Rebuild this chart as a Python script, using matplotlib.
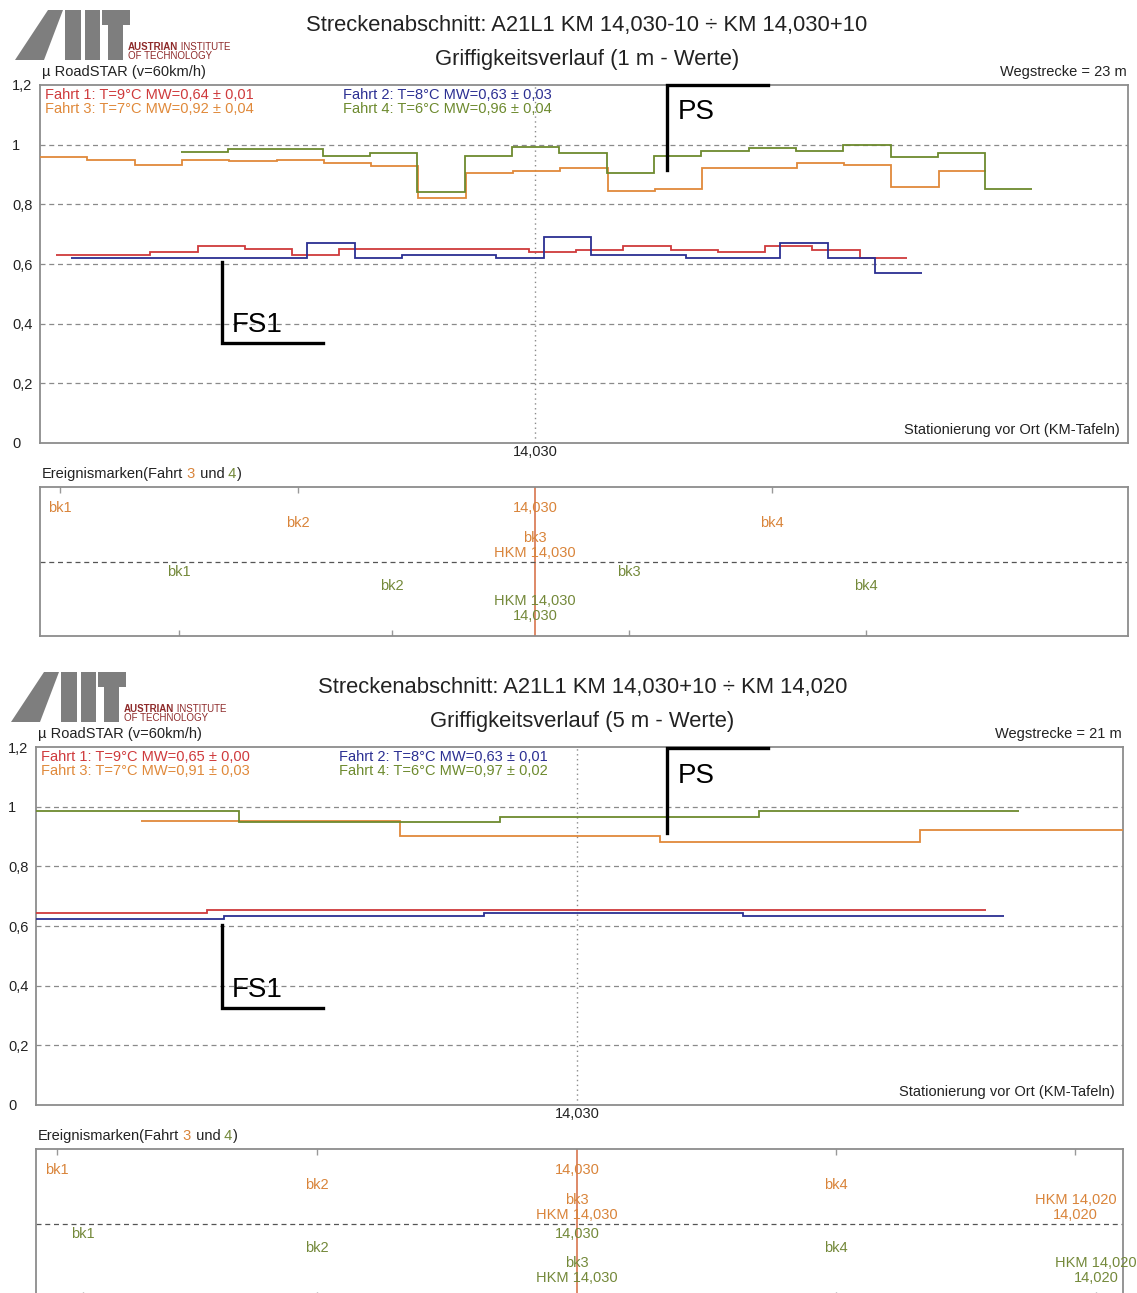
import numpy as np
import matplotlib
matplotlib.use("Agg")
import matplotlib.pyplot as plt
from matplotlib.patches import Polygon

plt.rcParams["font.family"] = ["Liberation Sans", "DejaVu Sans"]

# ---------------------------------------------------------------- data
# Section 1: 1 m values (positions in metres along the measured section)
top_xlim = (0.0, 23.0)
top_station = 10.47
top_step = 1.0
fahrt1_top_start = 0.33
fahrt1_top = [0.630, 0.630, 0.639, 0.660, 0.650, 0.630, 0.650, 0.650, 0.650, 0.650,
              0.639, 0.648, 0.660, 0.648, 0.639, 0.660, 0.648, 0.619]
fahrt2_top_start = 0.65
fahrt2_top = [0.619, 0.619, 0.619, 0.619, 0.619, 0.669, 0.619, 0.630, 0.630, 0.619,
              0.689, 0.630, 0.630, 0.619, 0.619, 0.669, 0.619, 0.570]
fahrt3_top_start = 0.0
fahrt3_top = [0.958, 0.948, 0.932, 0.948, 0.946, 0.948, 0.938, 0.930, 0.822, 0.906,
              0.912, 0.922, 0.845, 0.852, 0.922, 0.922, 0.940, 0.931, 0.858, 0.911]
fahrt4_top_start = 2.98
fahrt4_top = [0.975, 0.985, 0.985, 0.962, 0.972, 0.843, 0.962, 0.993, 0.973, 0.905,
              0.961, 0.979, 0.989, 0.979, 1.000, 0.959, 0.972, 0.850]

top_legend = ["Fahrt 1: T=9°C MW=0,64 ± 0,01", "Fahrt 2: T=8°C MW=0,63 ± 0,03",
              "Fahrt 3: T=7°C MW=0,92 ± 0,04", "Fahrt 4: T=6°C MW=0,96 ± 0,04"]

top_ev3_pos = [0.42, 5.45, 10.47, 10.47, 10.47, 15.47]
top_ev3_lab = ["bk1", "bk2", "14,030", "bk3", "HKM 14,030", "bk4"]
top_ev3_row = [0, 1, 0, 2, 3, 1]
top_ev4_pos = [2.93, 7.44, 10.47, 10.47, 12.45, 17.46]
top_ev4_lab = ["bk1", "bk2", "HKM 14,030", "14,030", "bk3", "bk4"]
top_ev4_row = [0, 1, 2, 3, 0, 1]

# Section 2: 5 m values
low_xlim = (0.0, 21.0)
low_station = 10.45
fahrt1_low_edges = [0.0, 3.30, 8.30, 13.30, 18.35]
fahrt1_low = [0.645, 0.652, 0.652, 0.652]
fahrt2_low_edges = [0.0, 3.63, 8.65, 13.65, 18.71]
fahrt2_low = [0.622, 0.632, 0.642, 0.632]
fahrt3_low_edges = [2.02, 7.04, 12.05, 17.07, 22.07]
fahrt3_low = [0.952, 0.902, 0.882, 0.922]
fahrt4_low_edges = [0.0, 3.93, 8.97, 13.97, 18.99]
fahrt4_low = [0.984, 0.947, 0.964, 0.984]

low_legend = ["Fahrt 1: T=9°C MW=0,65 ± 0,00", "Fahrt 2: T=8°C MW=0,63 ± 0,01",
              "Fahrt 3: T=7°C MW=0,91 ± 0,03", "Fahrt 4: T=6°C MW=0,97 ± 0,02"]

low_ev3_pos = [0.41, 5.43, 10.45, 10.45, 10.45, 15.46, 20.08, 20.08]
low_ev3_lab = ["bk1", "bk2", "14,030", "bk3", "HKM 14,030", "bk4", "HKM 14,020", "14,020"]
low_ev3_row = [0, 1, 0, 2, 3, 1, 2, 3]
low_ev4_pos = [0.91, 5.43, 10.45, 10.45, 10.45, 15.46, 20.48, 20.48]
low_ev4_lab = ["bk1", "bk2", "14,030", "bk3", "HKM 14,030", "bk4", "HKM 14,020", "14,020"]
low_ev4_row = [0, 1, 0, 2, 3, 1, 2, 3]

y_ticks = [0.0, 0.2, 0.4, 0.6, 0.8, 1.0, 1.2]
y_tick_labels = ["0", "0,2", "0,4", "0,6", "0,8", "1", "1,2"]

# ---------------------------------------------------------------- style
RED = "#cf3a3c"
BLUE = "#2b2f92"
ORANGE = "#e0893a"
GREEN = "#6d8a2e"
EV_ORANGE = "#d9843a"
EV_GREEN = "#74893a"
FRAME = "#8c8c8c"
GRID = "#8a8a8a"
TXT = "#222222"
SMALL = 10.5

W, H = 1137, 1293
fig = plt.figure(figsize=(W / 100, H / 100), dpi=100)
renderer = fig.canvas.get_renderer()


def px_axes(x0, y0, x1, y1):
    return fig.add_axes([x0 / W, 1 - y1 / H, (x1 - x0) / W, (y1 - y0) / H])


def ftext(x, y, s, **kw):
    kw.setdefault("fontsize", SMALL)
    kw.setdefault("color", TXT)
    return fig.text(x / W, 1 - y / H, s, **kw)


def text_run(x, y, pieces, **kw):
    """Write differently coloured pieces one after another on a baseline."""
    for s, c, extra in pieces:
        opts = dict(kw)
        opts.update(extra)
        t = ftext(x, y, s, color=c, ha="left", va="baseline", **opts)
        x += t.get_window_extent(renderer).width


def draw_logo(ox, oy):
    grey = "#7e7e7e"
    shapes = [
        [(-2, 50), (27, 50), (46, 0), (31, 0)],          # slash of the A
        [(48, 0), (64, 0), (64, 50), (48, 50)],          # stem of the A
        [(68, 0), (83, 0), (83, 50), (68, 50)],          # I
        [(85, 0), (113, 0), (113, 15), (85, 15)],        # T bar
        [(91, 0), (106, 0), (106, 50), (91, 50)],        # T stem
    ]
    for pts in shapes:
        xy = [((ox + px) / W, 1 - (oy + py) / H) for px, py in pts]
        fig.add_artist(Polygon(xy, closed=True, facecolor=grey, edgecolor="none",
                               transform=fig.transFigure))
    dark_red = "#8e2a2a"
    text_run(ox + 111, oy + 40, [("AUSTRIAN", dark_red, {"fontweight": "bold"}),
                                 (" INSTITUTE", dark_red, {})], fontsize=7)
    ftext(ox + 111, oy + 49, "OF TECHNOLOGY", fontsize=7, color=dark_red,
          ha="left", va="baseline")


def draw_section(dy, xl, xr, xlim, station, title, subtitle, distance, legend,
                 series, ev3, ev4, fs1, ps):
    cx = (xl + xr) / 2 + 3
    ftext(cx, 25 + dy, title, ha="center", va="center", fontsize=15.8)
    ftext(cx, 60 + dy, subtitle, ha="center", va="center", fontsize=15.8)
    ftext(xl + 2, 72 + dy, "µ RoadSTAR (v=60km/h)", ha="left", va="center")
    ftext(xr - 1, 72 + dy, distance, ha="right", va="center")
    draw_logo(xl - 23, 10 + dy)

    # ---- friction profile
    ax = px_axes(xl, 85 + dy, xr, 443 + dy)
    ax.set_xlim(xlim)
    ax.set_ylim(0, 1.2)
    for edges, vals, col in series:
        ax.stairs(vals, edges, baseline=None, color=col, lw=1.3, zorder=3)
    for yv in y_ticks[1:-1]:
        ax.axhline(yv, color=GRID, lw=0.9, ls=(0, (4, 3)), zorder=1)
    ax.axvline(station, color=GRID, lw=1.0, ls=(0, (1, 2.5)), zorder=2)
    ax.set_xticks([])
    ax.set_yticks(y_ticks, y_tick_labels)
    ax.tick_params(axis="y", length=0, pad=20.2, labelsize=SMALL, labelcolor=TXT)
    for lab in ax.get_yticklabels():
        lab.set_horizontalalignment("left")
    for sp in ax.spines.values():
        sp.set_color(FRAME)
        sp.set_linewidth(1.3)
    ax.text(station, -9 / 358, "14,030", transform=ax.get_xaxis_transform(),
            ha="center", va="center", fontsize=SMALL, color=TXT)
    ftext(xr - 8, 430 + dy, "Stationierung vor Ort (KM-Tafeln)", ha="right", va="center")

    colors = [RED, BLUE, ORANGE, GREEN]
    ftext(xl + 5, 95 + dy, legend[0], color=colors[0], ha="left", va="center")
    ftext(xl + 303, 95 + dy, legend[1], color=colors[1], ha="left", va="center")
    ftext(xl + 5, 109 + dy, legend[2], color=colors[2], ha="left", va="center")
    ftext(xl + 303, 109 + dy, legend[3], color=colors[3], ha="left", va="center")

    # FS1 / PS markers
    ax.plot([fs1["x"], fs1["x"], fs1["x_end"]], [fs1["y_top"], fs1["y_bot"], fs1["y_bot"]],
            color="black", lw=2.4, clip_on=False, zorder=6, solid_joinstyle="miter")
    ax.text(fs1["tx"], fs1["ty"], "FS1", fontsize=20, ha="left", va="center", color="black")
    ax.plot([ps["x"], ps["x"], ps["x_end"]], [ps["y_bot"], ps["y_top"], ps["y_top"]],
            color="black", lw=2.4, clip_on=False, zorder=6, solid_joinstyle="miter")
    ax.text(ps["tx"], ps["ty"], "PS", fontsize=20, ha="left", va="center", color="black")

    # ---- event markers
    text_run(xl + 2, 478 + dy, [("Ereignismarken(Fahrt", TXT, {}), (" 3", EV_ORANGE, {}),
                                (" und", TXT, {}), (" 4", EV_GREEN, {}), (")", TXT, {})])
    ev = px_axes(xl, 487 + dy, xr, 636 + dy)
    ev.set_xlim(xlim)
    ev.set_ylim(149, 0)
    ev.set_xticks([])
    ev.set_yticks([])
    for sp in ev.spines.values():
        sp.set_color(FRAME)
        sp.set_linewidth(1.3)
    ev.axhline(75, color="#555555", lw=0.9, ls=(0, (4, 3)))
    ev.axvline(station, color="#d46a3e", lw=1.1, zorder=1)
    rows3 = [21, 36, 51, 66]
    rows4 = [85, 99.5, 114, 129]
    pos3, lab3, row3 = ev3
    pos4, lab4, row4 = ev4
    tick3 = sorted(set(p for p in pos3 if abs(p - station) > 0.1))
    tick4 = sorted(set(p for p in pos4 if abs(p - station) > 0.1))
    ev.vlines(tick3, 0, 6, color="#999999", lw=1)
    ev.vlines(tick4, 143, 149, color="#999999", lw=1)
    for p, s, r in zip(pos3, lab3, row3):
        ev.text(p, rows3[r], s, ha="center", va="center", fontsize=SMALL,
                color=EV_ORANGE, clip_on=False, zorder=3)
    for p, s, r in zip(pos4, lab4, row4):
        ev.text(p, rows4[r], s, ha="center", va="center", fontsize=SMALL,
                color=EV_GREEN, clip_on=False, zorder=3)


def edges_from(start, n, step):
    return start + step * np.arange(n + 1)


top_series = [
    (edges_from(fahrt1_top_start, len(fahrt1_top), top_step), fahrt1_top, RED),
    (edges_from(fahrt2_top_start, len(fahrt2_top), top_step), fahrt2_top, BLUE),
    (edges_from(fahrt3_top_start, len(fahrt3_top), top_step), fahrt3_top, ORANGE),
    (edges_from(fahrt4_top_start, len(fahrt4_top), top_step), fahrt4_top, GREEN),
]
low_series = [
    (fahrt1_low_edges, fahrt1_low, RED),
    (fahrt2_low_edges, fahrt2_low, BLUE),
    (fahrt3_low_edges, fahrt3_low, ORANGE),
    (fahrt4_low_edges, fahrt4_low, GREEN),
]

draw_section(0, 40, 1128, top_xlim, top_station,
             "Streckenabschnitt: A21L1 KM 14,030-10 ÷ KM 14,030+10",
             "Griffigkeitsverlauf (1 m - Werte)", "Wegstrecke = 23 m", top_legend,
             top_series, (top_ev3_pos, top_ev3_lab, top_ev3_row),
             (top_ev4_pos, top_ev4_lab, top_ev4_row),
             fs1=dict(x=3.85, x_end=5.98, y_top=0.607, y_bot=0.335, tx=4.06, ty=0.396),
             ps=dict(x=13.26, x_end=15.39, y_top=1.2, y_bot=0.915, tx=13.49, ty=1.11))

draw_section(662, 36, 1123, low_xlim, low_station,
             "Streckenabschnitt: A21L1 KM 14,030+10 ÷ KM 14,020",
             "Griffigkeitsverlauf (5 m - Werte)", "Wegstrecke = 21 m", low_legend,
             low_series, (low_ev3_pos, low_ev3_lab, low_ev3_row),
             (low_ev4_pos, low_ev4_lab, low_ev4_row),
             fs1=dict(x=3.59, x_end=5.54, y_top=0.603, y_bot=0.324, tx=3.79, ty=0.384),
             ps=dict(x=12.19, x_end=14.14, y_top=1.195, y_bot=0.913, tx=12.40, ty=1.102))

fig.savefig("out.png", dpi=100)
